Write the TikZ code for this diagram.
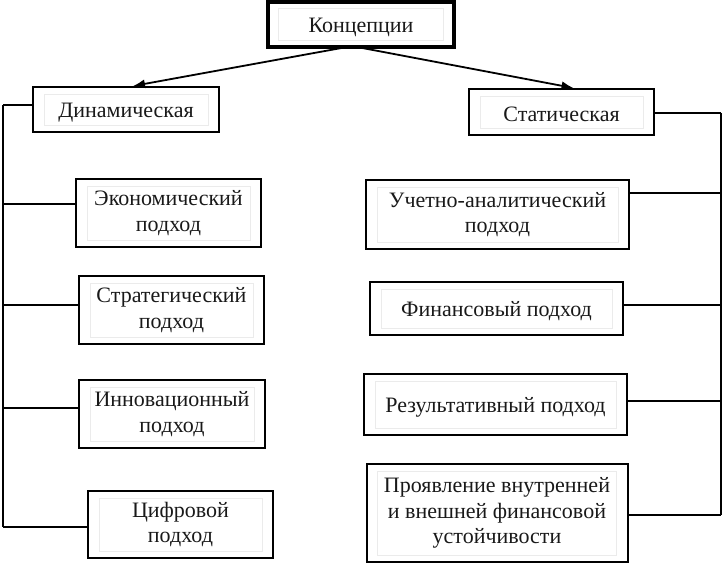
\documentclass[tikz,border=0pt]{standalone}
\usepackage{fontspec}
\setmainfont{Liberation Serif}
\usetikzlibrary{arrows.meta}
\begin{document}
\begin{tikzpicture}[x=1pt,y=-1pt,
  box/.style={draw=black,line width=2pt,inner sep=0pt,align=center,
    font=\fontsize{22}{25.5}\selectfont,text=black!90,
    execute at begin node={\rule{0pt}{20pt}}},
  topbox/.style={box,line width=3.5pt},
  conn/.style={draw=black,line width=1.4pt},
  arr/.style={draw=black,line width=1.8pt,-{Latex[length=12pt,width=9pt]}},
  inner/.style={draw=black!8,line width=0.8pt}]
\useasboundingbox (0,0) rectangle (725,564);
\node[topbox,minimum width=186pt,minimum height=45pt] (konc) at (361,24.5) {Концепции};
\node[box,minimum width=186pt,minimum height=45pt] (dyn) at (126,109.5) {Динамическая};
\node[box,minimum width=185pt,minimum height=46pt] (stat) at (561.5,112) {Статическая};
\node[box,minimum width=185pt,minimum height=68pt] (econ) at (168.5,213) {Экономический\\подход};
\node[box,minimum width=185pt,minimum height=68pt] (strat) at (171.5,310) {Стратегический\\подход};
\node[box,minimum width=186pt,minimum height=68pt] (innov) at (172,414) {Инновационный\\подход};
\node[box,minimum width=185pt,minimum height=67pt] (digit) at (180.5,524.5) {Цифровой\\подход};
\node[box,minimum width=263pt,minimum height=69pt] (ucht) at (497.5,214.5) {Учетно-аналитический\\подход};
\node[box,minimum width=253pt,minimum height=53pt] (fin) at (496.5,308.5) {Финансовый подход};
\node[box,minimum width=263pt,minimum height=61pt] (res) at (495.5,404.5) {Результативный подход};
\node[box,minimum width=261pt,minimum height=98pt] (proj) at (497,513) {Проявление внутренней\\и внешней финансовой\\устойчивости};
\foreach \n in {konc,dyn,stat,econ,strat,innov,digit,ucht,fin,res,proj}
  \draw[inner] ([shift={(12,8)}]\n.north west) rectangle ([shift={(-12,-8)}]\n.south east);
% arrows
\coordinate (kl) at (347,47);
\coordinate (kr) at (357,47);
\draw[arr] (kl) -- ([xshift=7pt]dyn.north);
\draw[arr] (kr) -- ([xshift=12pt]stat.north);
% left spine
\coordinate (L1) at (3,105);
\coordinate (L2) at (3,204);
\coordinate (L3) at (3,305);
\coordinate (L4) at (3,408);
\coordinate (L5) at (3,527);
\draw[conn] (L1) -- (L5);
\draw[conn] (L1) -- (dyn.west |- L1);
\draw[conn] (L2) -- (econ.west |- L2);
\draw[conn] (L3) -- (strat.west |- L3);
\draw[conn] (L4) -- (innov.west |- L4);
\draw[conn] (L5) -- (digit.west |- L5);
% right spine
\coordinate (R1) at (721,113);
\coordinate (R2) at (721,193);
\coordinate (R3) at (721,305);
\coordinate (R4) at (721,401);
\coordinate (R5) at (721,515);
\draw[conn] (R1) -- (R5);
\draw[conn] (R1) -- (stat.east |- R1);
\draw[conn] (R2) -- (ucht.east |- R2);
\draw[conn] (R3) -- (fin.east |- R3);
\draw[conn] (R4) -- (res.east |- R4);
\draw[conn] (R5) -- (proj.east |- R5);
\end{tikzpicture}
\end{document}
